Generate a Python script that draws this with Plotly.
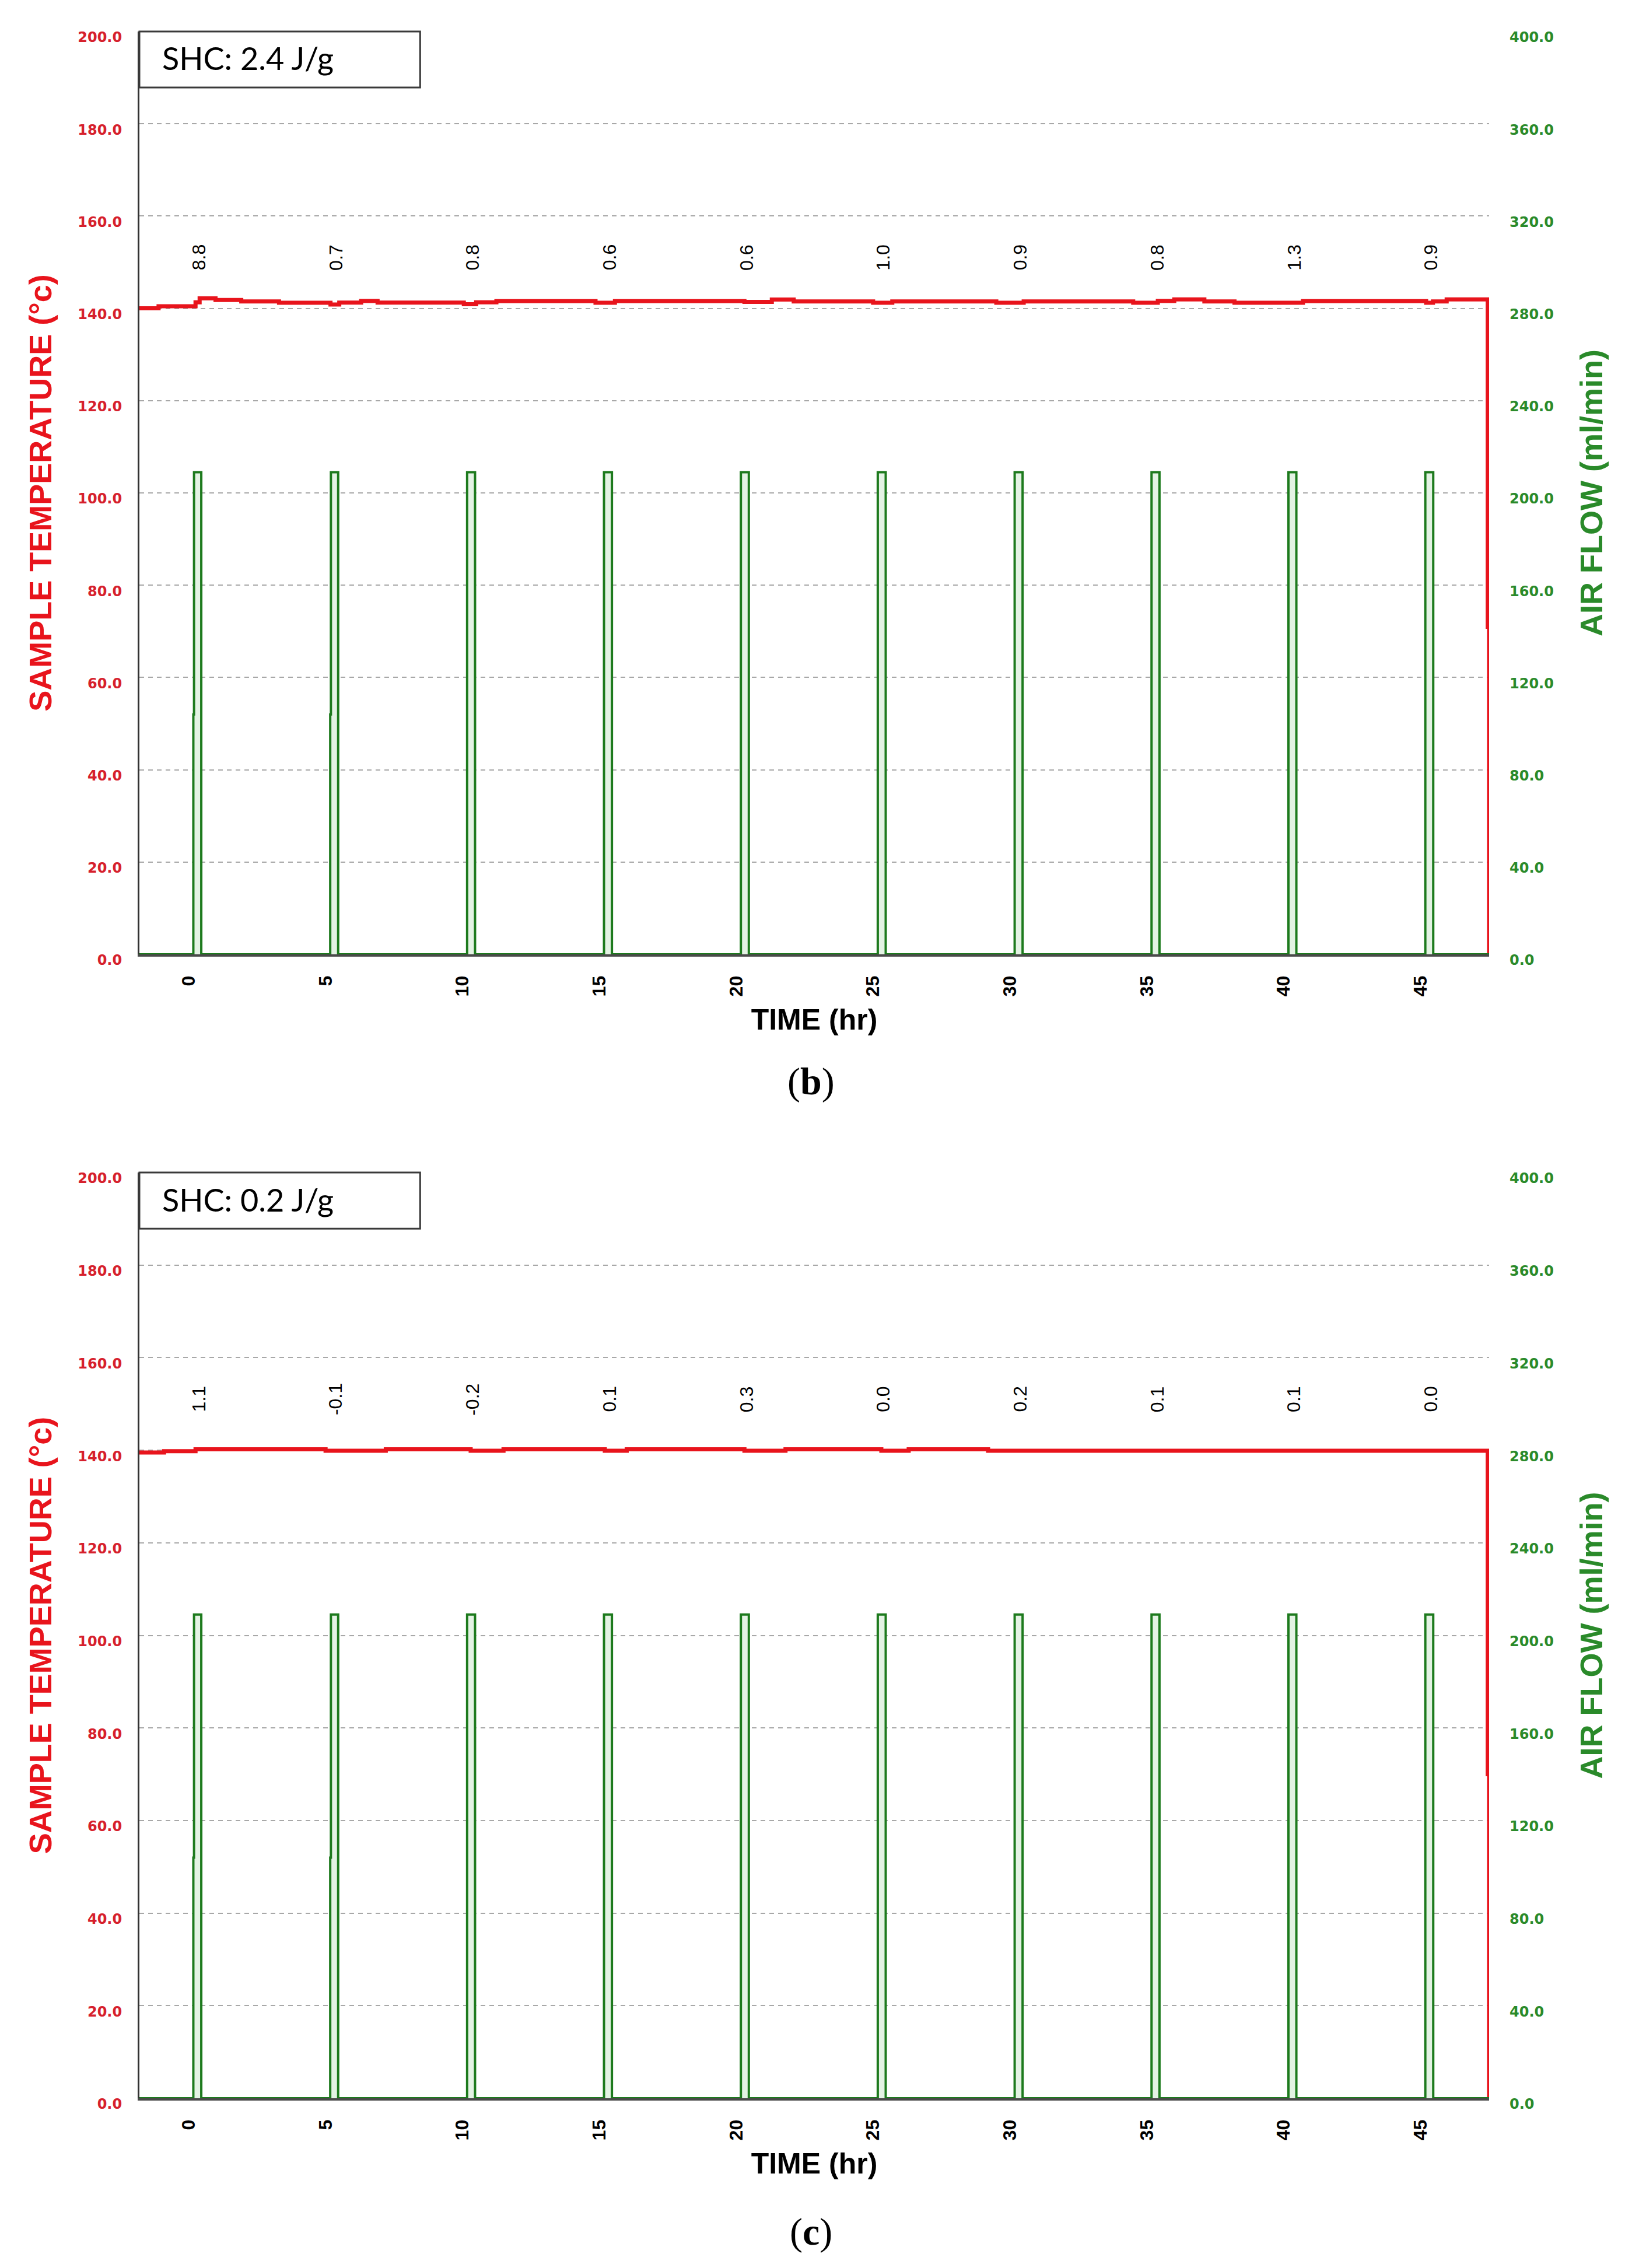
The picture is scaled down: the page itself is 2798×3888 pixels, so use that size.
import plotly.graph_objects as go

# ---- data ----
time_ticks = [0, 5, 10, 15, 20, 25, 30, 35, 40, 45]
temp_ticks = [0, 20, 40, 60, 80, 100, 120, 140, 160, 180, 200]
flow_ticks = [0, 40, 80, 120, 160, 200, 240, 280, 320, 360, 400]

# air flow pulses (hr on, hr off, ml/min)
pulse_on = [0.17, 5.17, 10.17, 15.17, 20.17, 25.17, 30.17, 35.17, 40.17, 45.17]
pulse_off = [0.46, 5.46, 10.46, 15.46, 20.46, 25.46, 30.46, 35.46, 40.46, 45.46]
pulse_peak = [209, 209, 209, 209, 209, 209, 209, 209, 209, 209]
pulse_mid = [104, 104, None, None, None, None, None, None, None, None]

# sample temperature, panel (b)
b_time = [-1.8, -1.1, 0.25, 0.4, 0.98, 1.92, 3.3, 5.18, 5.5, 6.3, 6.9, 10.05, 10.5,
          11.24, 14.86, 15.57, 20.3, 21.3, 22.1, 25.0, 25.7, 29.5, 30.5, 34.5, 35.4,
          36.0, 37.1, 38.2, 40.7, 45.2, 45.45, 45.95, 47.45, 47.5]
b_temp = [140.0, 140.45, 141.3, 142.15, 141.8, 141.5, 141.2, 140.85, 141.25, 141.6,
          141.25, 140.9, 141.3, 141.55, 141.2, 141.55, 141.4, 141.9, 141.5, 141.2,
          141.5, 141.2, 141.5, 141.2, 141.6, 141.95, 141.5, 141.2, 141.55, 141.2,
          141.5, 141.95, 71.0, 0.0]
b_shc = [8.8, 0.7, 0.8, 0.6, 0.6, 1.0, 0.9, 0.8, 1.3, 0.9]

# sample temperature, panel (c)
c_time = [-1.8, -0.9, 0.25, 5.0, 7.2, 10.3, 11.5, 15.2, 16.0, 20.3, 21.8, 25.3,
          26.3, 29.2, 47.45, 47.5]
c_temp = [139.5, 139.8, 140.2, 139.9, 140.2, 139.9, 140.2, 139.9, 140.2, 139.9,
          140.2, 139.9, 140.2, 139.9, 70.0, 0.0]
c_shc = [1.1, -0.1, -0.2, 0.1, 0.3, 0.0, 0.2, 0.1, 0.1, 0.0]

X_RANGE = [-1.8, 47.5]
W, H = 2798, 3888

RED = '#e8141c'
RED_TXT = '#d6202c'
GREEN = '#1d7a1d'
GREEN_TXT = '#2a8a2a'
GRID = '#a8a8a8'


def airflow_xy():
    xs, ys = [X_RANGE[0]], [0]
    for on, off, peak, mid in zip(pulse_on, pulse_off, pulse_peak, pulse_mid):
        xs.append(on); ys.append(0)
        if mid is not None:
            xs += [on, on + 0.025]; ys += [mid, mid]
            on = on + 0.025
        xs += [on, off, off]; ys += [peak, peak, 0]
    xs.append(X_RANGE[1]); ys.append(0)
    return xs, ys


fig = go.Figure()

panels = [
    # x axis, left y, right y, temp data, shc values, box text
    ('x', 'y', 'y2', b_time, b_temp, b_shc, 'SHC: 2.4 J/g'),
    ('x2', 'y3', 'y4', c_time, c_temp, c_shc, 'SHC: 0.2 J/g'),
]

fx, fy = airflow_xy()
for xa, ya, ya2, tt, tv, shc, boxtxt in panels:
    fig.add_trace(go.Scatter(
        x=fx, y=fy, xaxis=xa, yaxis=ya2, mode='lines',
        line=dict(color=GREEN, width=4), fill='tozeroy', fillcolor='#e4f3e4',
        showlegend=False))
    fig.add_trace(go.Scatter(
        x=tt, y=tv, xaxis=xa, yaxis=ya, mode='lines', line_shape='hv',
        line=dict(color=RED, width=7), showlegend=False))

    # SHC increments above each pulse
    for on, off, v in zip(pulse_on, pulse_off, shc):
        fig.add_annotation(
            x=(on + off) / 2 + 0.05, y=151, xref=xa, yref=ya, text=f'{v:.1f}',
            textangle=-90, showarrow=False,
            font=dict(family='Liberation Sans', size=32, color='black'))

    # SHC box in the top-left corner
    fig.add_shape(type='rect', xref=f'{xa} domain', yref=f'{ya} domain',
                  x0=0, x1=0.208, y0=0.9393, y1=1.0,
                  line=dict(color='#3a3a3a', width=3), fillcolor='white', layer='above')
    fig.add_annotation(
        xref=f'{xa} domain', yref=f'{ya} domain', x=0.016, y=0.971,
        xanchor='left', yanchor='middle', text=boxtxt, showarrow=False,
        font=dict(family='Lato', size=54, color='black'))

dom_x = [231 / W, 2545 / W]
dom_b = [1 - 1628 / H, 1 - 46 / H]
dom_c = [1 - 3589 / H, 1 - 2002 / H]

xaxis_style = dict(
    range=X_RANGE, domain=dom_x, tickvals=time_ticks, tickangle=-90,
    showgrid=False, zeroline=False, showline=True, linecolor='#4a4a4a', linewidth=4,
    ticks='', ticklabelstandoff=20, automargin=False,
    tickfont=dict(family='Liberation Sans', size=32, color='black', weight='bold'),
    title=dict(text='TIME (hr)', standoff=24,
               font=dict(family='Liberation Sans', size=50, color='black', weight='bold')))

left_style = dict(
    range=[0, 200], tickvals=temp_ticks, tickformat='.1f',
    showgrid=True, gridcolor=GRID, gridwidth=2, griddash='8px,7px',
    zeroline=False, showline=True, linecolor='#333333', linewidth=3, ticks='',
    ticklabelstandoff=22, ticklabelshift=10, automargin=False,
    tickfont=dict(family='DejaVu Sans', size=24, color=RED_TXT, weight='bold'),
    title=dict(text='SAMPLE TEMPERATURE (°c)', standoff=28,
               font=dict(family='Liberation Sans', size=54, color=RED, weight='bold')))

right_style = dict(
    range=[0, 400], tickvals=flow_ticks, tickformat='.1f', side='right',
    showgrid=False, zeroline=False, showline=False, ticks='',
    ticklabelstandoff=34, ticklabelshift=10, automargin=False,
    tickfont=dict(family='DejaVu Sans', size=24, color=GREEN_TXT, weight='bold'),
    title=dict(text='AIR FLOW (ml/min)', standoff=46,
               font=dict(family='Liberation Sans', size=54, color=GREEN_TXT, weight='bold')))

fig.update_layout(
    width=W, height=H, template='none',
    paper_bgcolor='white', plot_bgcolor='white',
    margin=dict(l=0, r=0, t=0, b=0),
    xaxis=dict(xaxis_style, anchor='y'),
    xaxis2=dict(xaxis_style, anchor='y3'),
    yaxis=dict(left_style, domain=dom_b, anchor='x'),
    yaxis2=dict(right_style, domain=dom_b, anchor='x', overlaying='y'),
    yaxis3=dict(left_style, domain=dom_c, anchor='x2'),
    yaxis4=dict(right_style, domain=dom_c, anchor='x2', overlaying='y3'),
)

# panel letters
for lab, yy in [('(<b>b</b>)', 1 - 1846 / H), ('(<b>c</b>)', 1 - 3818 / H)]:
    fig.add_annotation(xref='paper', yref='paper', x=1382 / W, y=yy, text=lab,
                       showarrow=False, xanchor='center', yanchor='middle',
                       font=dict(family='Liberation Serif', size=66, color='black'))

fig.write_html('out.html')
